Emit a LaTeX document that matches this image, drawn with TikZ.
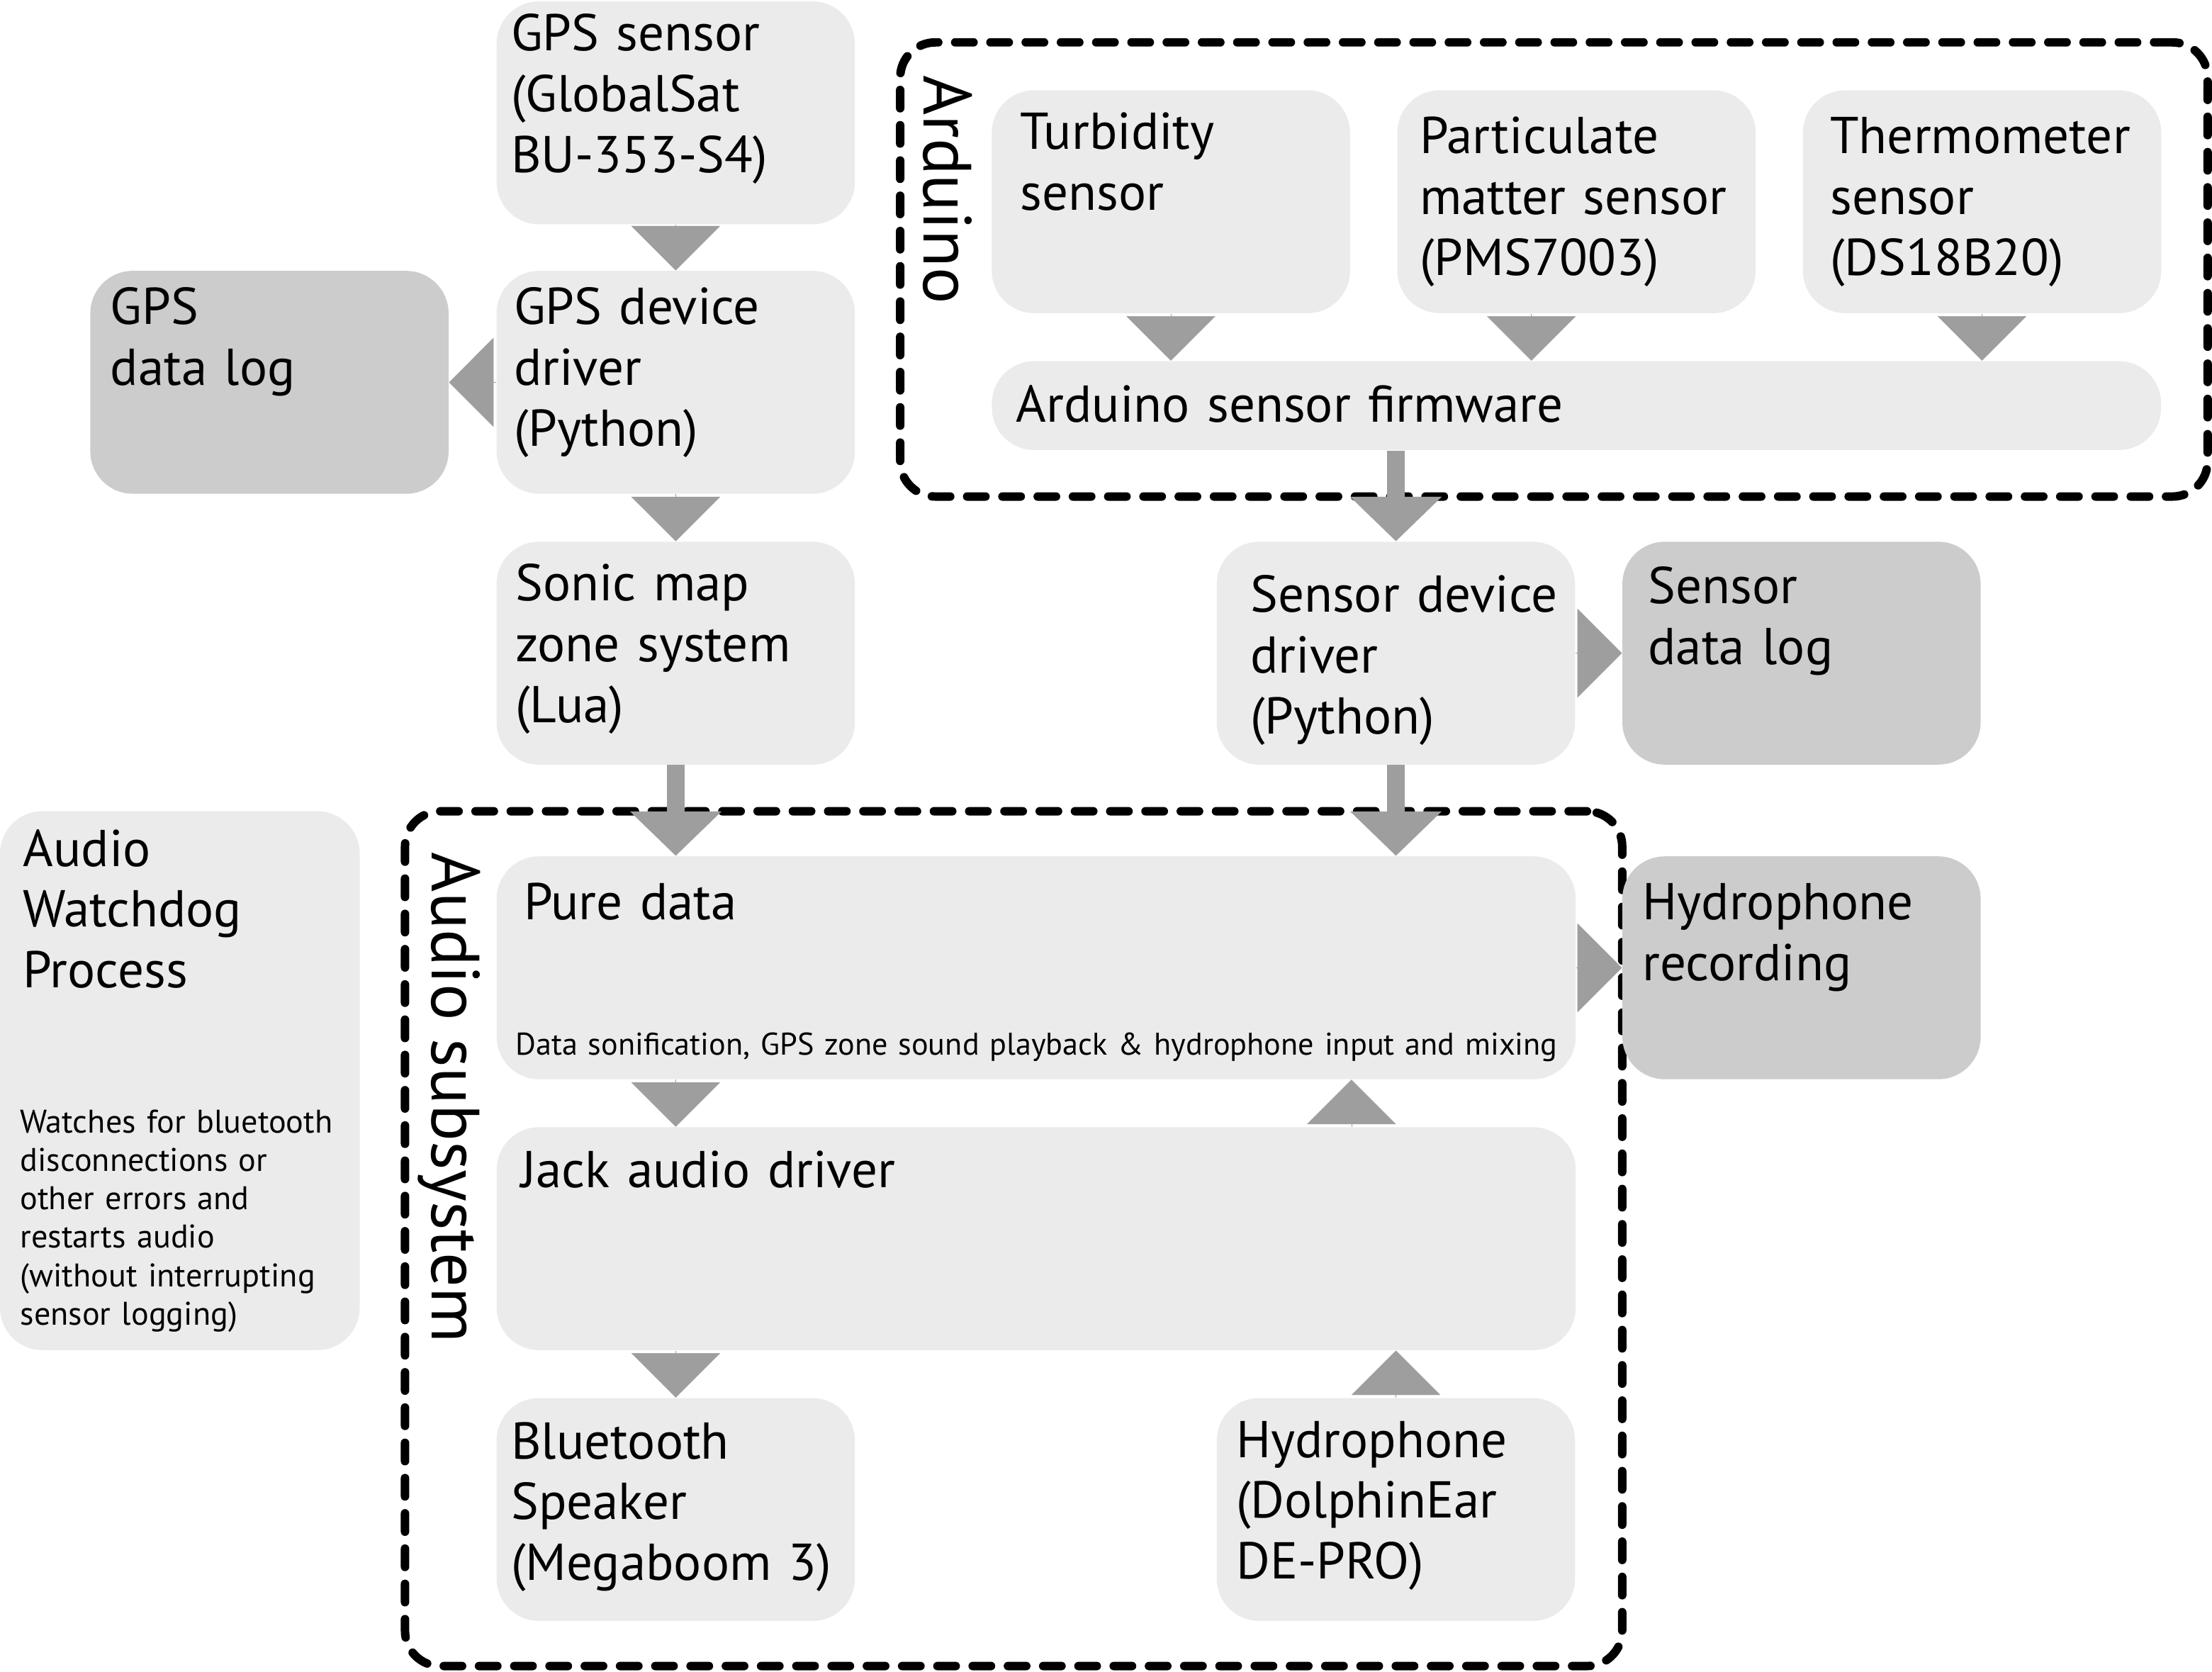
\documentclass[tikz,border=0pt]{standalone}
\usepackage{fontspec}
\setmainfont{PT Sans}
\usetikzlibrary{arrows.meta,calc}
\definecolor{boxlt}{HTML}{EBEBEB}
\definecolor{boxdk}{HTML}{CCCCCC}
\definecolor{flowgray}{HTML}{9E9E9E}

\begin{document}
\begin{tikzpicture}[x=0.02cm,y=-0.02cm,
    bx/.style={fill=boxlt,rounded corners=0.6cm,minimum width=5.08cm,
      minimum height=3.16cm,inner sep=0pt},
    bxd/.style={bx,fill=boxdk},
    wide/.style={minimum width=15.3cm},
    grp/.style={draw,line width=0.12cm,dash pattern=on 0.26cm off 0.24cm,
      line cap=round,rounded corners=0.5cm,inner sep=0pt},
    txt/.style={anchor=base west,inner sep=0pt,align=left,text width=12cm,
      font=\fontsize{20.9}{24.5}\selectfont},
    small/.style={txt,text width=16cm,font=\fontsize{12.9}{15.5}\selectfont},
    grplbl/.style={anchor=base west,rotate=-90,inner sep=0pt,
      font=\fontsize{27.5}{30}\selectfont},
    tri/.style={-{Triangle[width=1.26cm,length=0.63cm]},flowgray,line width=0.1pt},
    stem/.style={tri,line width=0.25cm},
  ]
    \useasboundingbox (0,0) rectangle (1568,1185);
    % dashed group frames
    \node[grp,minimum width=18.54cm,minimum height=6.44cm] (ardgrp) at (1101.5,191) {};
    \node[grp,minimum width=17.26cm,minimum height=12.12cm] (audgrp) at (718.5,878) {};
    \node[grplbl] (ardgrp-t) at (655,53) {Arduino};
    \node[grplbl] (audgrp-t) at (306,604) {Audio subsystem};

    % boxes
    \node[bx] (gpssen) at (479,80) {};
    \node[bx] (gpsdrv) at (479,271) {};
    \node[bxd] (gpslog) at (191,271) {};
    \node[bx] (sonic) at (479,463) {};
    \node[bx,minimum width=5.1cm,minimum height=7.64cm] (watch) at (127.5,766) {};
    \node[bx] (turb) at (830,143) {};
    \node[bx] (pm) at (1117.5,143) {};
    \node[bx] (thermo) at (1405,143) {};
    \node[bx,minimum width=16.58cm,minimum height=1.26cm] (firm) at (1117.5,287.5) {};
    \node[bx] (sensdrv) at (989.5,463) {};
    \node[bxd] (senslog) at (1277,463) {};
    \node[bx,wide] (pd) at (734.5,686) {};
    \node[bxd] (hydrec) at (1277,686) {};
    \node[bx,wide] (jack) at (734.5,878) {};
    \node[bx] (speaker) at (479,1070) {};
    \node[bx] (hydro) at (989.5,1070) {};

    % flows
    \draw[tri] (gpssen) -- (gpsdrv);
    \draw[tri] (gpsdrv) -- (gpslog);
    \draw[tri] (gpsdrv) -- (sonic);
    \draw[tri] (turb.south) -- (turb.south |- firm.north);
    \draw[tri] ($(pm.south)+(-32,0)$) -- ($(pm.south |- firm.north)+(-32,0)$);
    \draw[tri] (thermo.south) -- (thermo.south |- firm.north);
    \draw[stem] (sensdrv.north |- firm.south) -- (sensdrv.north);
    \draw[tri] (sensdrv) -- (senslog);
    \draw[stem] (sonic.south) -- (sonic.south |- pd.north);
    \draw[stem] (sensdrv.south) -- (sensdrv.south |- pd.north);
    \draw[tri] (pd.east) -- (hydrec.west);
    \draw[tri] (pd.south -| sonic) -- (jack.north -| sonic);
    \draw[tri] ($(jack.north -| hydro)+(-31.5,0)$) -- ($(pd.south -| hydro)+(-31.5,0)$);
    \draw[tri] (jack.south -| speaker) -- (speaker.north);
    \draw[tri] (hydro.north) -- (hydro.north |- jack.south);

    % texts
    \node[txt] (gpssen-t) at (362,36) {GPS sensor\\(GlobalSat\\BU-353-S4)};
    \node[txt] (gpsdrv-t) at (364,230) {GPS device\\driver\\(Python)};
    \node[txt] (gpslog-t) at (78,230) {GPS\\data log};
    \node[txt] (sonic-t) at (365,426) {Sonic map\\zone system\\(Lua)};
    \node[txt] (watch-t) at (16,614) {Audio\\Watchdog\\Process};
    \node[small,font=\fontsize{13.2}{15.5}\selectfont] (watch-s) at (14,803) {Watches for bluetooth\\disconnections or\\other errors and\\restarts audio\\(without interrupting\\sensor logging)};
    \node[txt] (turb-t) at (723,106) {Turbidity\\sensor};
    \node[txt] (pm-t) at (1006,109) {Particulate\\matter sensor\\(PMS7003)};
    \node[txt] (thermo-t) at (1297,109) {Thermometer\\sensor\\(DS18B20)};
    \node[txt] (firm-t) at (720,299) {Arduino sensor firmware};
    \node[txt] (sensdrv-t) at (886,434) {Sensor device\\driver\\(Python)};
    \node[txt] (senslog-t) at (1168,428) {Sensor\\data log};
    \node[txt] (pd-t) at (371,652) {Pure data};
    \node[small,font=\fontsize{12.65}{15.5}\selectfont] (pd-s) at (365,748) {Data sonification, GPS zone sound playback \& hydrophone input and mixing};
    \node[txt] (hydrec-t) at (1164,652) {Hydrophone\\recording};
    \node[txt] (jack-t) at (369,842) {Jack audio driver};
    \node[txt] (speaker-t) at (362,1034) {Bluetooth\\Speaker\\(Megaboom 3)};
    \node[txt] (hydro-t) at (876,1033) {Hydrophone\\(DolphinEar\\DE-PRO)};
  \end{tikzpicture}
\end{document}
